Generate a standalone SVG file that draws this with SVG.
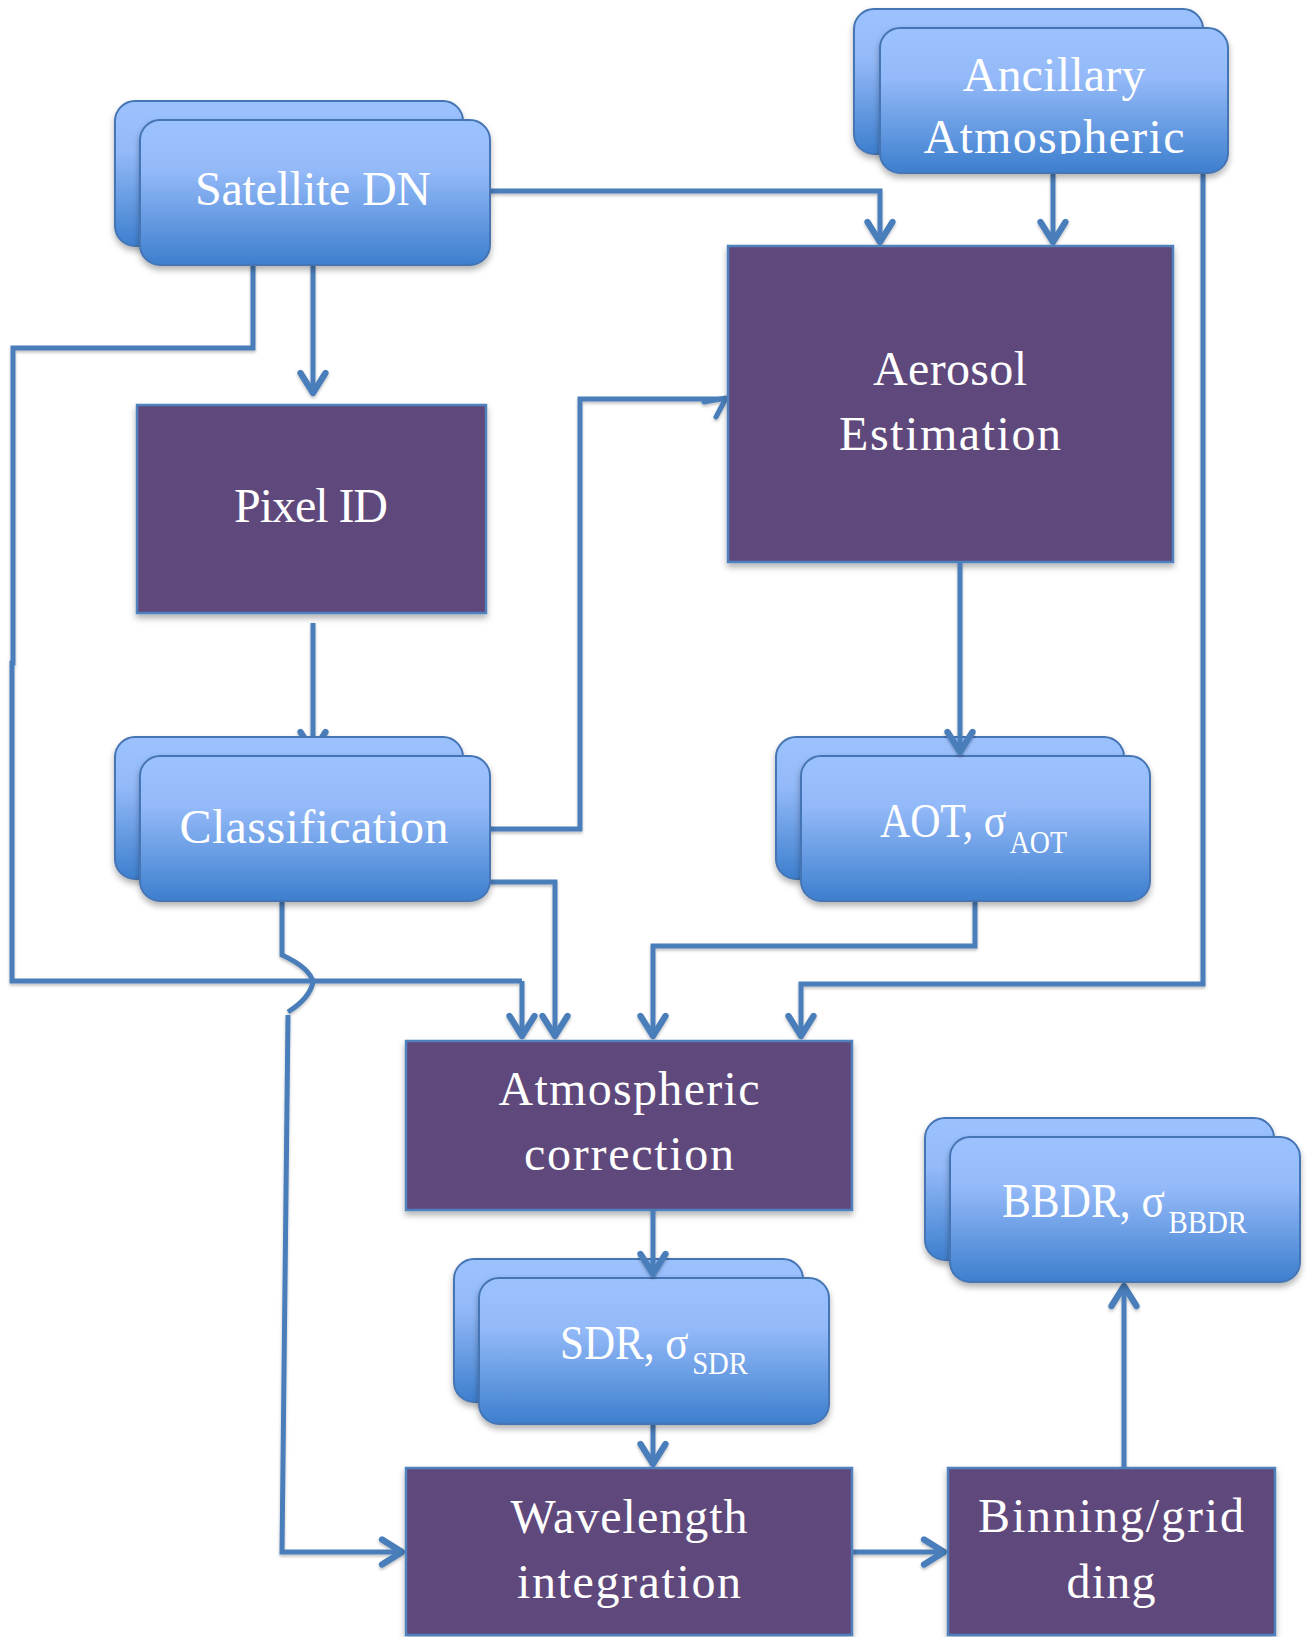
<svg xmlns="http://www.w3.org/2000/svg" width="1308" height="1637" viewBox="0 0 1308 1637">
<defs>
<linearGradient id="blueg" x1="0" y1="0" x2="0" y2="1">
<stop offset="0" stop-color="#9cc2fe"/>
<stop offset="0.35" stop-color="#93b9f8"/>
<stop offset="1" stop-color="#3d7fce"/>
</linearGradient>
<filter id="sh" x="-10%" y="-10%" width="120%" height="130%">
<feDropShadow dx="0" dy="4" stdDeviation="3" flood-color="#000" flood-opacity="0.3"/>
</filter>
<filter id="lsh" x="-5%" y="-5%" width="110%" height="110%">
<feDropShadow dx="0" dy="2" stdDeviation="1.5" flood-color="#000" flood-opacity="0.25"/>
</filter>
<marker id="ah" markerUnits="userSpaceOnUse" markerWidth="40" markerHeight="40" viewBox="-22 -16 28 32" refX="0" refY="0" orient="auto">
<path d="M-16,-10 L0,0 L-16,10" fill="none" stroke="#4a7ebb" stroke-width="5" stroke-linecap="round" stroke-linejoin="round"/>
</marker>
<clipPath id="ancclip"><rect x="880" y="28" width="348" height="126"/></clipPath>
<style>
.blue{fill:url(#blueg);stroke:#4575b4;stroke-width:2;filter:url(#sh)}
.purp{fill:#5f4a7b;stroke:#4f81bd;stroke-width:2.5;filter:url(#sh)}
.t{font-family:"Liberation Serif","Times New Roman",serif;font-size:48px;fill:#ffffff;text-anchor:middle}
.ts{font-family:"Liberation Serif","Times New Roman",serif;font-size:48px;fill:#ffffff}
.sub{font-size:32px}
.c{fill:none;stroke:#4a7ebb;stroke-width:5}
.ca{fill:none;stroke:#4a7ebb;stroke-width:5;marker-end:url(#ah)}
</style>
</defs>
<rect x="0" y="0" width="1308" height="1637" fill="#ffffff"/>

<g id="connectors" filter="url(#lsh)">
<path class="ca" d="M490,191 H880 V242"/>
<path class="ca" d="M1053,173 V242"/>
<path class="ca" d="M313,265 V393"/>
<path class="c" d="M253,265 V348 H13 V663 H12 V981 H522"/>
<path class="ca" d="M522,981 V1036"/>
<path class="ca" d="M313,623 V752"/>
<path class="c" d="M490,829 H580 V399 H727"/>
<path class="c" d="M704,402 L726,398 L716,417" stroke-linecap="round" stroke-linejoin="round"/>
<path class="ca" d="M490,882 H555 V1036"/>
<path class="c" d="M282,901 V955 Q310,968 313,982 Q310,998 288,1012"/>
<path class="c" d="M288,1015 L282,1552 H402"/>
<path class="ca" d="M400,1552 H402"/>
<path class="ca" d="M975,901 V946 H653 V1036"/>
<path class="ca" d="M1203,173 V984 H801 V1036"/>
<path class="ca" d="M653,1424 V1464"/>
<path class="ca" d="M852,1552 H944"/>
<path class="ca" d="M1124,1468 V1286"/>
</g>

<g id="satellite-dn">
<rect class="blue" x="115" y="101" width="348" height="145" rx="20"/>
<rect class="blue" x="140" y="120" width="350" height="145" rx="20"/>
<text class="t" x="313" y="205" textLength="236">Satellite DN</text>
</g>

<g id="ancillary">
<rect class="blue" x="854" y="9" width="349" height="145" rx="20"/>
<rect class="blue" x="880" y="28" width="348" height="145" rx="20"/>
<g clip-path="url(#ancclip)">
<text class="t" x="1054" y="91" textLength="183">Ancillary</text>
<text class="t" x="1054" y="153" textLength="261">Atmospheric</text>
</g>
</g>

<g id="aerosol-estimation">
<rect class="purp" x="728" y="246" width="445" height="316"/>
<text class="t" x="950" y="385" textLength="154">Aerosol</text>
<text class="t" x="950" y="450" textLength="222">Estimation</text>
</g>

<g id="pixel-id">
<rect class="purp" x="137" y="405" width="349" height="208"/>
<text class="t" x="311" y="522" textLength="154">Pixel ID</text>
</g>

<g id="classification">
<rect class="blue" x="115" y="737" width="348" height="142" rx="20"/>
<rect class="blue" x="140" y="756" width="350" height="145" rx="20"/>
<text class="t" x="314" y="843" textLength="269">Classification</text>
</g>

<g id="aot">
<rect class="blue" x="776" y="737" width="348" height="142" rx="20"/>
<rect class="blue" x="801" y="756" width="349" height="145" rx="20"/>
<text class="ts" x="880" y="837" textLength="187" lengthAdjust="spacingAndGlyphs">AOT, σ<tspan class="sub" dx="4" dy="16">AOT</tspan></text>
</g>

<g id="atmospheric-correction">
<rect class="purp" x="406" y="1041" width="446" height="169"/>
<text class="t" x="629" y="1105" textLength="261">Atmospheric</text>
<text class="t" x="629" y="1170" textLength="210">correction</text>
</g>

<g id="sdr">
<rect class="blue" x="454" y="1259" width="349" height="143" rx="20"/>
<rect class="blue" x="479" y="1278" width="350" height="146" rx="20"/>
<text class="ts" x="560" y="1359" textLength="188" lengthAdjust="spacingAndGlyphs">SDR, σ<tspan class="sub" dx="4" dy="15">SDR</tspan></text>
</g>

<g id="bbdr">
<rect class="blue" x="925" y="1118" width="349" height="142" rx="20"/>
<rect class="blue" x="950" y="1137" width="350" height="145" rx="20"/>
<text class="ts" x="1002" y="1217" textLength="245" lengthAdjust="spacingAndGlyphs">BBDR, σ<tspan class="sub" dx="4" dy="16">BBDR</tspan></text>
</g>

<g id="wavelength-integration">
<rect class="purp" x="406" y="1468" width="446" height="167"/>
<text class="t" x="629" y="1533" textLength="237">Wavelength</text>
<text class="t" x="629" y="1598" textLength="224">integration</text>
</g>

<g id="binning-gridding">
<rect class="purp" x="948" y="1468" width="327" height="167"/>
<text class="t" x="1111" y="1532" textLength="266">Binning/grid</text>
<text class="t" x="1111" y="1598" textLength="89">ding</text>
</g>

<g id="connectors-over" filter="url(#lsh)">
<path class="ca" d="M960,562 V752"/>
<path class="ca" d="M653,1210 V1274"/>
</g>
</svg>
